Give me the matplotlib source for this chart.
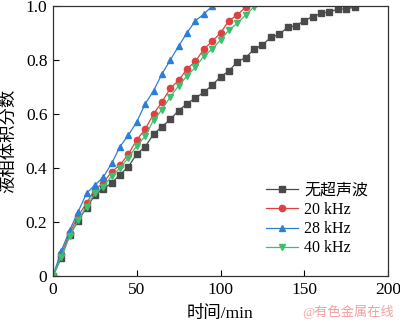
import matplotlib
matplotlib.use("Agg")
import matplotlib.pyplot as plt
import numpy as np

plt.rcParams['font.family'] = ['Liberation Serif', 'Noto Sans CJK SC']
plt.rcParams['axes.unicode_minus'] = False

# time in minutes, samples every 5 min
t_none = np.arange(0, 181, 5)
y_none = [0, 0.068, 0.152, 0.204, 0.253, 0.300, 0.322, 0.345, 0.375, 0.405,
          0.452, 0.479, 0.525, 0.553, 0.580, 0.613, 0.638, 0.660, 0.680, 0.707,
          0.738, 0.759, 0.794, 0.809, 0.840, 0.856, 0.884, 0.895, 0.921, 0.927,
          0.946, 0.961, 0.973, 0.979, 0.988, 0.990, 0.996]

t_20 = np.arange(0, 116, 5)
y_20 = [0, 0.081, 0.160, 0.222, 0.270, 0.320, 0.345, 0.386, 0.411, 0.451,
        0.505, 0.543, 0.600, 0.645, 0.695, 0.725, 0.767, 0.795, 0.840, 0.870,
        0.900, 0.946, 0.967, 0.997]

t_28 = np.arange(0, 96, 5)
y_28 = [0, 0.094, 0.170, 0.238, 0.306, 0.337, 0.366, 0.417, 0.479, 0.522,
        0.571, 0.637, 0.686, 0.748, 0.800, 0.852, 0.901, 0.946, 0.970, 1.000]

t_40 = np.arange(0, 121, 5)
y_40 = [0, 0.072, 0.148, 0.207, 0.257, 0.306, 0.331, 0.370, 0.400, 0.438,
        0.482, 0.518, 0.577, 0.616, 0.664, 0.705, 0.741, 0.773, 0.815, 0.840,
        0.874, 0.911, 0.936, 0.967, 0.997]

labels = ["无超声波", "20 kHz", "28 kHz", "40 kHz"]

fig = plt.figure(figsize=(4.0, 3.22), dpi=100)
ax = fig.add_axes([0.1325, 0.143, 0.8375, 0.838])

ms = 4
ax.plot(t_none, y_none, color="#4a4a4a", marker="s", ms=ms, lw=0.9, label=labels[0])
ax.plot(t_20, y_20, color="#e04040", marker="o", ms=ms + 0.5, lw=0.9, label=labels[1])
ax.plot(t_28, y_28, color="#2a7fd6", marker="^", ms=ms + 0.5, lw=0.9, label=labels[2])
ax.plot(t_40, y_40, color="#3cc070", marker="v", ms=ms + 0.5, lw=0.9, label=labels[3])

ax.set_xlim(0, 200)
ax.set_ylim(0, 1.0)
ax.set_xticks([0, 50, 100, 150, 200])
ax.set_yticks([0, 0.2, 0.4, 0.6, 0.8, 1.0])
ax.set_yticklabels(["0", "0.2", "0.4", "0.6", "0.8", "1.0"])
ax.tick_params(direction="in", length=4, width=0.8, labelsize=12.5, pad=4)
for s in ax.spines.values():
    s.set_linewidth(0.9)
    s.set_color("#333333")

ax.set_xlabel("时间/min", fontsize=12.5, labelpad=6)
ax.set_ylabel("液相体积分数", fontsize=12.5, labelpad=6)

ax.legend(loc="upper left", bbox_to_anchor=(0.635, 0.345), frameon=False,
          fontsize=11.5, handlelength=2.0, handletextpad=0.4, labelspacing=0.2,
          borderaxespad=0, borderpad=0)

fig.text(0.985, 0.008, "@有色金属在线", color="#f2a0a0", fontsize=9.5,
         ha="right", va="bottom")

fig.savefig("out.png", dpi=100)
